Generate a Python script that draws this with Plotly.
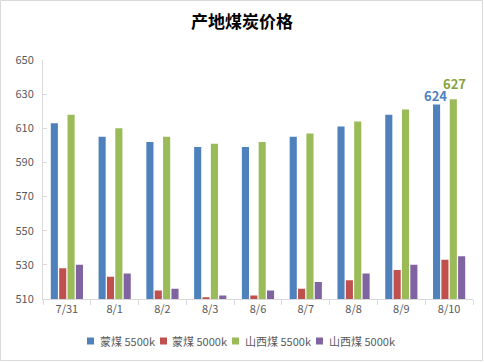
import plotly.graph_objects as go

categories = ["7/31", "8/1", "8/2", "8/3", "8/6", "8/7", "8/8", "8/9", "8/10"]
series_names = ["蒙煤 5500k", "蒙煤 5000k", "山西煤 5500k", "山西煤 5000k"]
meng_5500 = [613, 605, 602, 599, 599, 605, 611, 618, 624]
meng_5000 = [528, 523, 515, 511, 512, 516, 521, 527, 533]
shanxi_5500 = [618, 610, 605, 601, 602, 607, 614, 621, 627]
shanxi_5000 = [530, 525, 516, 512, 515, 520, 525, 530, 535]
y_ticks = [510, 530, 550, 570, 590, 610, 630, 650]

colors = ["#4F81BD", "#C0504D", "#9BBB59", "#8064A2"]
all_series = [meng_5500, meng_5000, shanxi_5500, shanxi_5000]

FONT = "Noto Sans CJK SC, Noto Sans, sans-serif"

fig = go.Figure()
for name, vals, col in zip(series_names, all_series, colors):
    fig.add_trace(go.Bar(
        x=categories, y=vals, name=name,
        marker=dict(color=col, line=dict(width=0)),
        showlegend=False, hoverinfo="skip",
    ))

L, R, T, B = 43, 11, 60, 63
W, H = 484, 362
pw, ph = W - L - R, H - T - B

def px_x(px):
    return (px - L) / pw

def px_y(py):
    return (T + ph - py) / ph

shapes = [dict(type="rect", xref="paper", yref="paper",
               x0=px_x(0.5), x1=px_x(W - 1.5), y0=px_y(H - 1.5), y1=px_y(0.5),
               line=dict(color="#D9D9D9", width=1), layer="below")]
annotations = []
# data labels on the last point of two series
annotations.append(dict(text="<b>%d</b>" % meng_5500[-1], x=categories[-1], y=meng_5500[-1],
                        xref="x", yref="y", xshift=-14, yshift=9, yanchor="middle", xanchor="center",
                        showarrow=False, borderpad=0,
                        font=dict(size=13, color="#4F81BD", family=FONT)))
annotations.append(dict(text="<b>%d</b>" % shanxi_5500[-1], x=categories[-1], y=shanxi_5500[-1],
                        xref="x", yref="y", xshift=5, yshift=16, yanchor="middle", xanchor="center",
                        showarrow=False, borderpad=0,
                        font=dict(size=13, color="#86A33E", family=FONT)))
# manual legend (positions only; names/colours come from the data lists)
legend_sq_x = [87, 160, 232, 316]
legend_txt_x = [98, 170, 243, 327]
legend_y = 341
for name, col, sx, tx in zip(series_names, colors, legend_sq_x, legend_txt_x):
    shapes.append(dict(type="rect", xref="paper", yref="paper",
                       x0=px_x(sx), x1=px_x(sx + 7), y0=px_y(legend_y + 3.5), y1=px_y(legend_y - 3.5),
                       fillcolor=col, line=dict(width=0)))
    annotations.append(dict(text=name, xref="paper", yref="paper", x=px_x(tx), y=px_y(legend_y),
                            xanchor="left", yanchor="middle", showarrow=False,
                            font=dict(size=11, color="#595959", family=FONT)))

fig.update_layout(
    width=W, height=H,
    margin=dict(l=L, r=R, t=T, b=B, autoexpand=False),
    paper_bgcolor="white", plot_bgcolor="white",
    barmode="group", bargap=0.3, bargroupgap=0.15,
    title=dict(text="<b>产地煤炭价格</b>", x=0.5, xanchor="center", y=1 - 22 / H, yanchor="middle",
               font=dict(family=FONT, size=17, color="#000000")),
    font=dict(family=FONT, size=11, color="#595959"),
    showlegend=False, hovermode=False,
    shapes=shapes, annotations=annotations,
)
fig.update_xaxes(type="category", showline=True, linecolor="#D9D9D9", linewidth=1,
                 ticks="outside", ticklen=5, tickcolor="#D9D9D9", tickson="boundaries",
                 showgrid=False, tickfont=dict(size=11, color="#595959"), automargin=False)
fig.update_yaxes(range=[510, 650], tickvals=y_ticks, showline=True, linecolor="#D9D9D9", linewidth=1,
                 ticks="inside", ticklen=4, tickcolor="#D9D9D9", showgrid=False, zeroline=False,
                 tickfont=dict(size=11, color="#595959"), ticklabelstandoff=6, automargin=False)

fig.write_html("out.html", config={"displayModeBar": False, "staticPlot": True},
               post_script="document.body.style.margin='0';document.body.style.padding='0';")
